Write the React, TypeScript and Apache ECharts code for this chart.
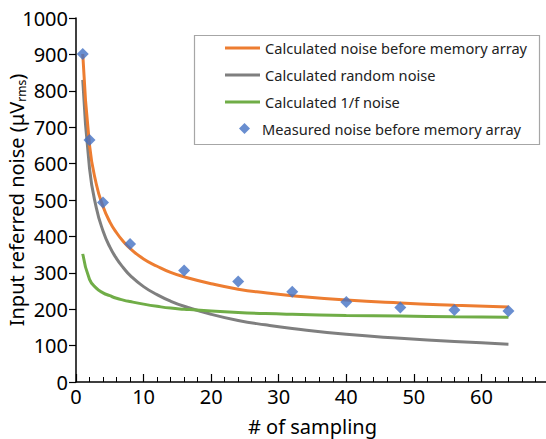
import React, { useEffect, useRef } from "react";
import * as echarts from "echarts";

const sampleX = [1, 2, 3, 4, 5, 6, 7, 8, 10, 12, 14, 16, 20, 24, 28, 32, 40, 48, 56, 64];
const totalNoise = [901, 651, 544, 482, 440, 410, 386, 367, 338, 318, 301, 289, 270, 255, 245, 237, 225, 217, 211, 206];
const randomNoise = [830, 587, 479, 415, 371, 339, 314, 293, 262, 240, 222, 208, 186, 169, 157, 147, 131, 120, 111, 104];
const flickerNoise = [352, 282, 258, 245, 237, 230, 225, 221, 214, 208, 203, 200, 195, 191, 188, 186, 183, 181, 179, 178];

const measuredX = [1, 2, 4, 8, 16, 24, 32, 40, 48, 56, 64];
const measuredY = [901, 665, 493, 379, 306, 276, 248, 220, 205, 198, 195];

const seriesNames = [
  "Calculated noise before memory array",
  "Calculated random noise",
  "Calculated 1/f noise",
  "Measured noise before memory array",
];

const FONT = "'Noto Sans', 'Open Sans', sans-serif";

export default function App() {
  const ref = useRef<HTMLDivElement>(null);
  useEffect(() => {
    if (!ref.current) return;
    const chart = echarts.init(ref.current, undefined, { renderer: "svg" });
    const pair = (xs: number[], ys: number[]) => xs.map((x, i) => [x, ys[i]]);
    const lineStyleBase = { width: 3 };
    chart.setOption({
      animation: false,
      textStyle: { fontFamily: FONT },
      grid: { left: 76, top: 18, width: 473, height: 364, outerBoundsMode: "none", containLabel: false },
      legend: [
        {
          orient: "vertical",
          left: 220,
          top: 33,
          itemWidth: 35,
          itemHeight: 3,
          itemGap: 7,
          icon: "rect",
          data: seriesNames.slice(0, 3),
          textStyle: { fontSize: 14.6, color: "#222", fontFamily: FONT, lineHeight: 20 },
        },
        {
          orient: "vertical",
          left: 234,
          top: 116,
          itemWidth: 11,
          itemHeight: 11,
          itemGap: 10,
          icon: "diamond",
          data: [seriesNames[3]],
          textStyle: { fontSize: 14.6, color: "#222", fontFamily: FONT, padding: [0, 0, 0, 7] },
        },
      ],
      graphic: [
        {
          type: "rect",
          left: 192,
          top: 33,
          shape: { width: 345, height: 109 },
          style: { fill: "none", stroke: "#a6a6a6", lineWidth: 1.2 },
          z: 10,
        },
      ],
      xAxis: {
        type: "value",
        min: 0,
        max: 70,
        interval: 10,
        name: "# of sampling",
        nameLocation: "middle",
        nameGap: 34,
        nameMoveOverlap: false,
        nameTextStyle: { fontSize: 20, color: "#000", fontFamily: FONT },
        axisLine: { lineStyle: { color: "#000", width: 1.5 } },
        axisTick: { inside: true, length: 8, lineStyle: { color: "#000", width: 1.2 } },
        minorTick: { show: true, splitNumber: 5, length: 5, lineStyle: { color: "#000", width: 1 } },
        axisLabel: {
          fontSize: 20,
          color: "#000",
          margin: 4,
          fontFamily: FONT,
          formatter: (v: number) => (v >= 70 ? "" : String(v)),
        },
        splitLine: { show: false },
      },
      yAxis: {
        type: "value",
        min: 0,
        max: 1000,
        interval: 100,
        name: "Input referred noise (μV{s|rms})",
        nameLocation: "middle",
        nameGap: 49,
        nameMoveOverlap: false,
        nameTextStyle: {
          fontSize: 20,
          color: "#000",
          fontFamily: FONT,
          rich: {
            s: { fontSize: 12, color: "#000", fontFamily: FONT, padding: [10, 0, 0, 0] },
          },
        },
        axisLine: { show: true, lineStyle: { color: "#000", width: 1.5 } },
        axisTick: { show: true, inside: false, length: 7, lineStyle: { color: "#000", width: 1.2 } },
        axisLabel: {
          fontSize: 20,
          color: "#000",
          margin: 8,
          fontFamily: FONT,
          formatter: (v: number) => String(v),
        },
        splitLine: { show: false },
      },
      series: [
        {
          name: seriesNames[0],
          type: "line",
          data: pair(sampleX, totalNoise),
          smooth: true,
          showSymbol: false,
          itemStyle: { color: "#ED7D31" },
          lineStyle: { ...lineStyleBase, color: "#ED7D31" },
          z: 3,
        },
        {
          name: seriesNames[1],
          type: "line",
          data: pair(sampleX, randomNoise),
          smooth: true,
          showSymbol: false,
          itemStyle: { color: "#7F7F7F" },
          lineStyle: { ...lineStyleBase, color: "#7F7F7F" },
          z: 2,
        },
        {
          name: seriesNames[2],
          type: "line",
          data: pair(sampleX, flickerNoise),
          smooth: true,
          showSymbol: false,
          itemStyle: { color: "#70AD47" },
          lineStyle: { ...lineStyleBase, color: "#70AD47" },
          z: 2,
        },
        {
          name: seriesNames[3],
          type: "scatter",
          data: pair(measuredX, measuredY),
          symbol: "diamond",
          symbolSize: 12,
          itemStyle: { color: "#4472C4" },
          z: 5,
        },
      ],
    });
    return () => chart.dispose();
  }, []);
  return (
    <div
      ref={ref}
      style={{ position: "fixed", left: 0, top: 0, width: 546, height: 439, background: "#fff" }}
    />
  );
}
